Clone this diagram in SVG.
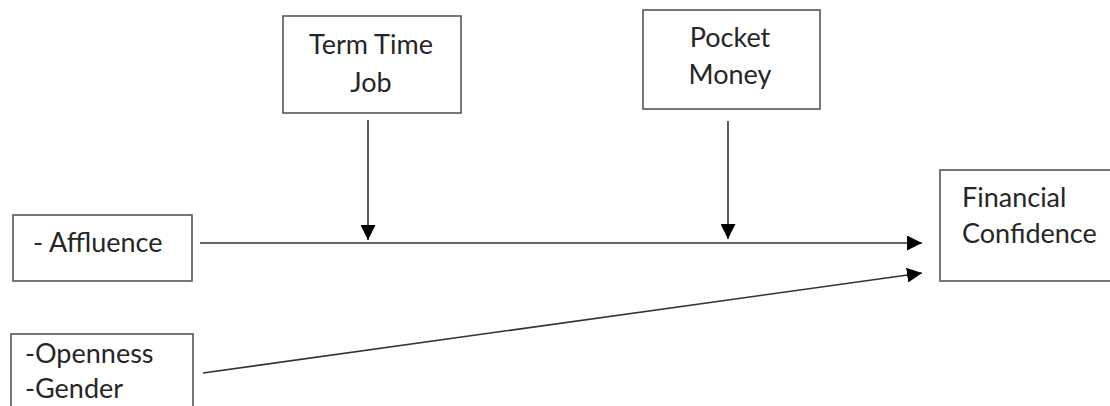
<svg xmlns="http://www.w3.org/2000/svg" width="1110" height="406" viewBox="0 0 1110 406">
<defs>
<style>
.box{fill:#fff;stroke:#555;stroke-width:1.6}
.t{font-family:Lato,"Open Sans",sans-serif;font-size:27px;fill:#262626}
.c{text-anchor:middle}
.ln{stroke:#333;stroke-width:1.6;fill:none}
</style>
<marker id="ah" viewBox="0 0 10 10" refX="10" refY="5" markerWidth="15" markerHeight="15" markerUnits="userSpaceOnUse" orient="auto">
<path d="M0,0 L10,5 L0,10 z" fill="#000"/>
</marker>
</defs>
<rect width="1110" height="406" fill="#fff"/>
<g id="term-time-job">
<rect class="box" x="283" y="16" width="178" height="97"/>
<text class="t c" x="371" y="54">Term Time</text>
<text class="t c" x="371" y="92">Job</text>
</g>
<g id="pocket-money">
<rect class="box" x="643" y="10" width="177" height="99"/>
<text class="t c" x="730" y="47">Pocket</text>
<text class="t c" x="730" y="84">Money</text>
</g>
<g id="affluence">
<rect class="box" x="13" y="215" width="179" height="66"/>
<text class="t" x="33" y="252">- Affluence</text>
</g>
<g id="openness-gender">
<rect class="box" x="11" y="334" width="182" height="90"/>
<text class="t" x="25" y="363">-Openness</text>
<text class="t" x="25" y="398">-Gender</text>
</g>
<g id="financial-confidence">
<rect class="box" x="940" y="170" width="180" height="111"/>
<text class="t" x="962" y="207">Financial</text>
<text class="t" x="962" y="243">Confidence</text>
</g>
<g id="connectors">
<line class="ln" x1="368" y1="120" x2="368" y2="240" marker-end="url(#ah)"/>
<line class="ln" x1="728" y1="121" x2="728" y2="239" marker-end="url(#ah)"/>
<line class="ln" x1="200" y1="243" x2="922" y2="243" marker-end="url(#ah)"/>
<line class="ln" x1="203" y1="373" x2="922" y2="273" marker-end="url(#ah)"/>
</g>
</svg>
